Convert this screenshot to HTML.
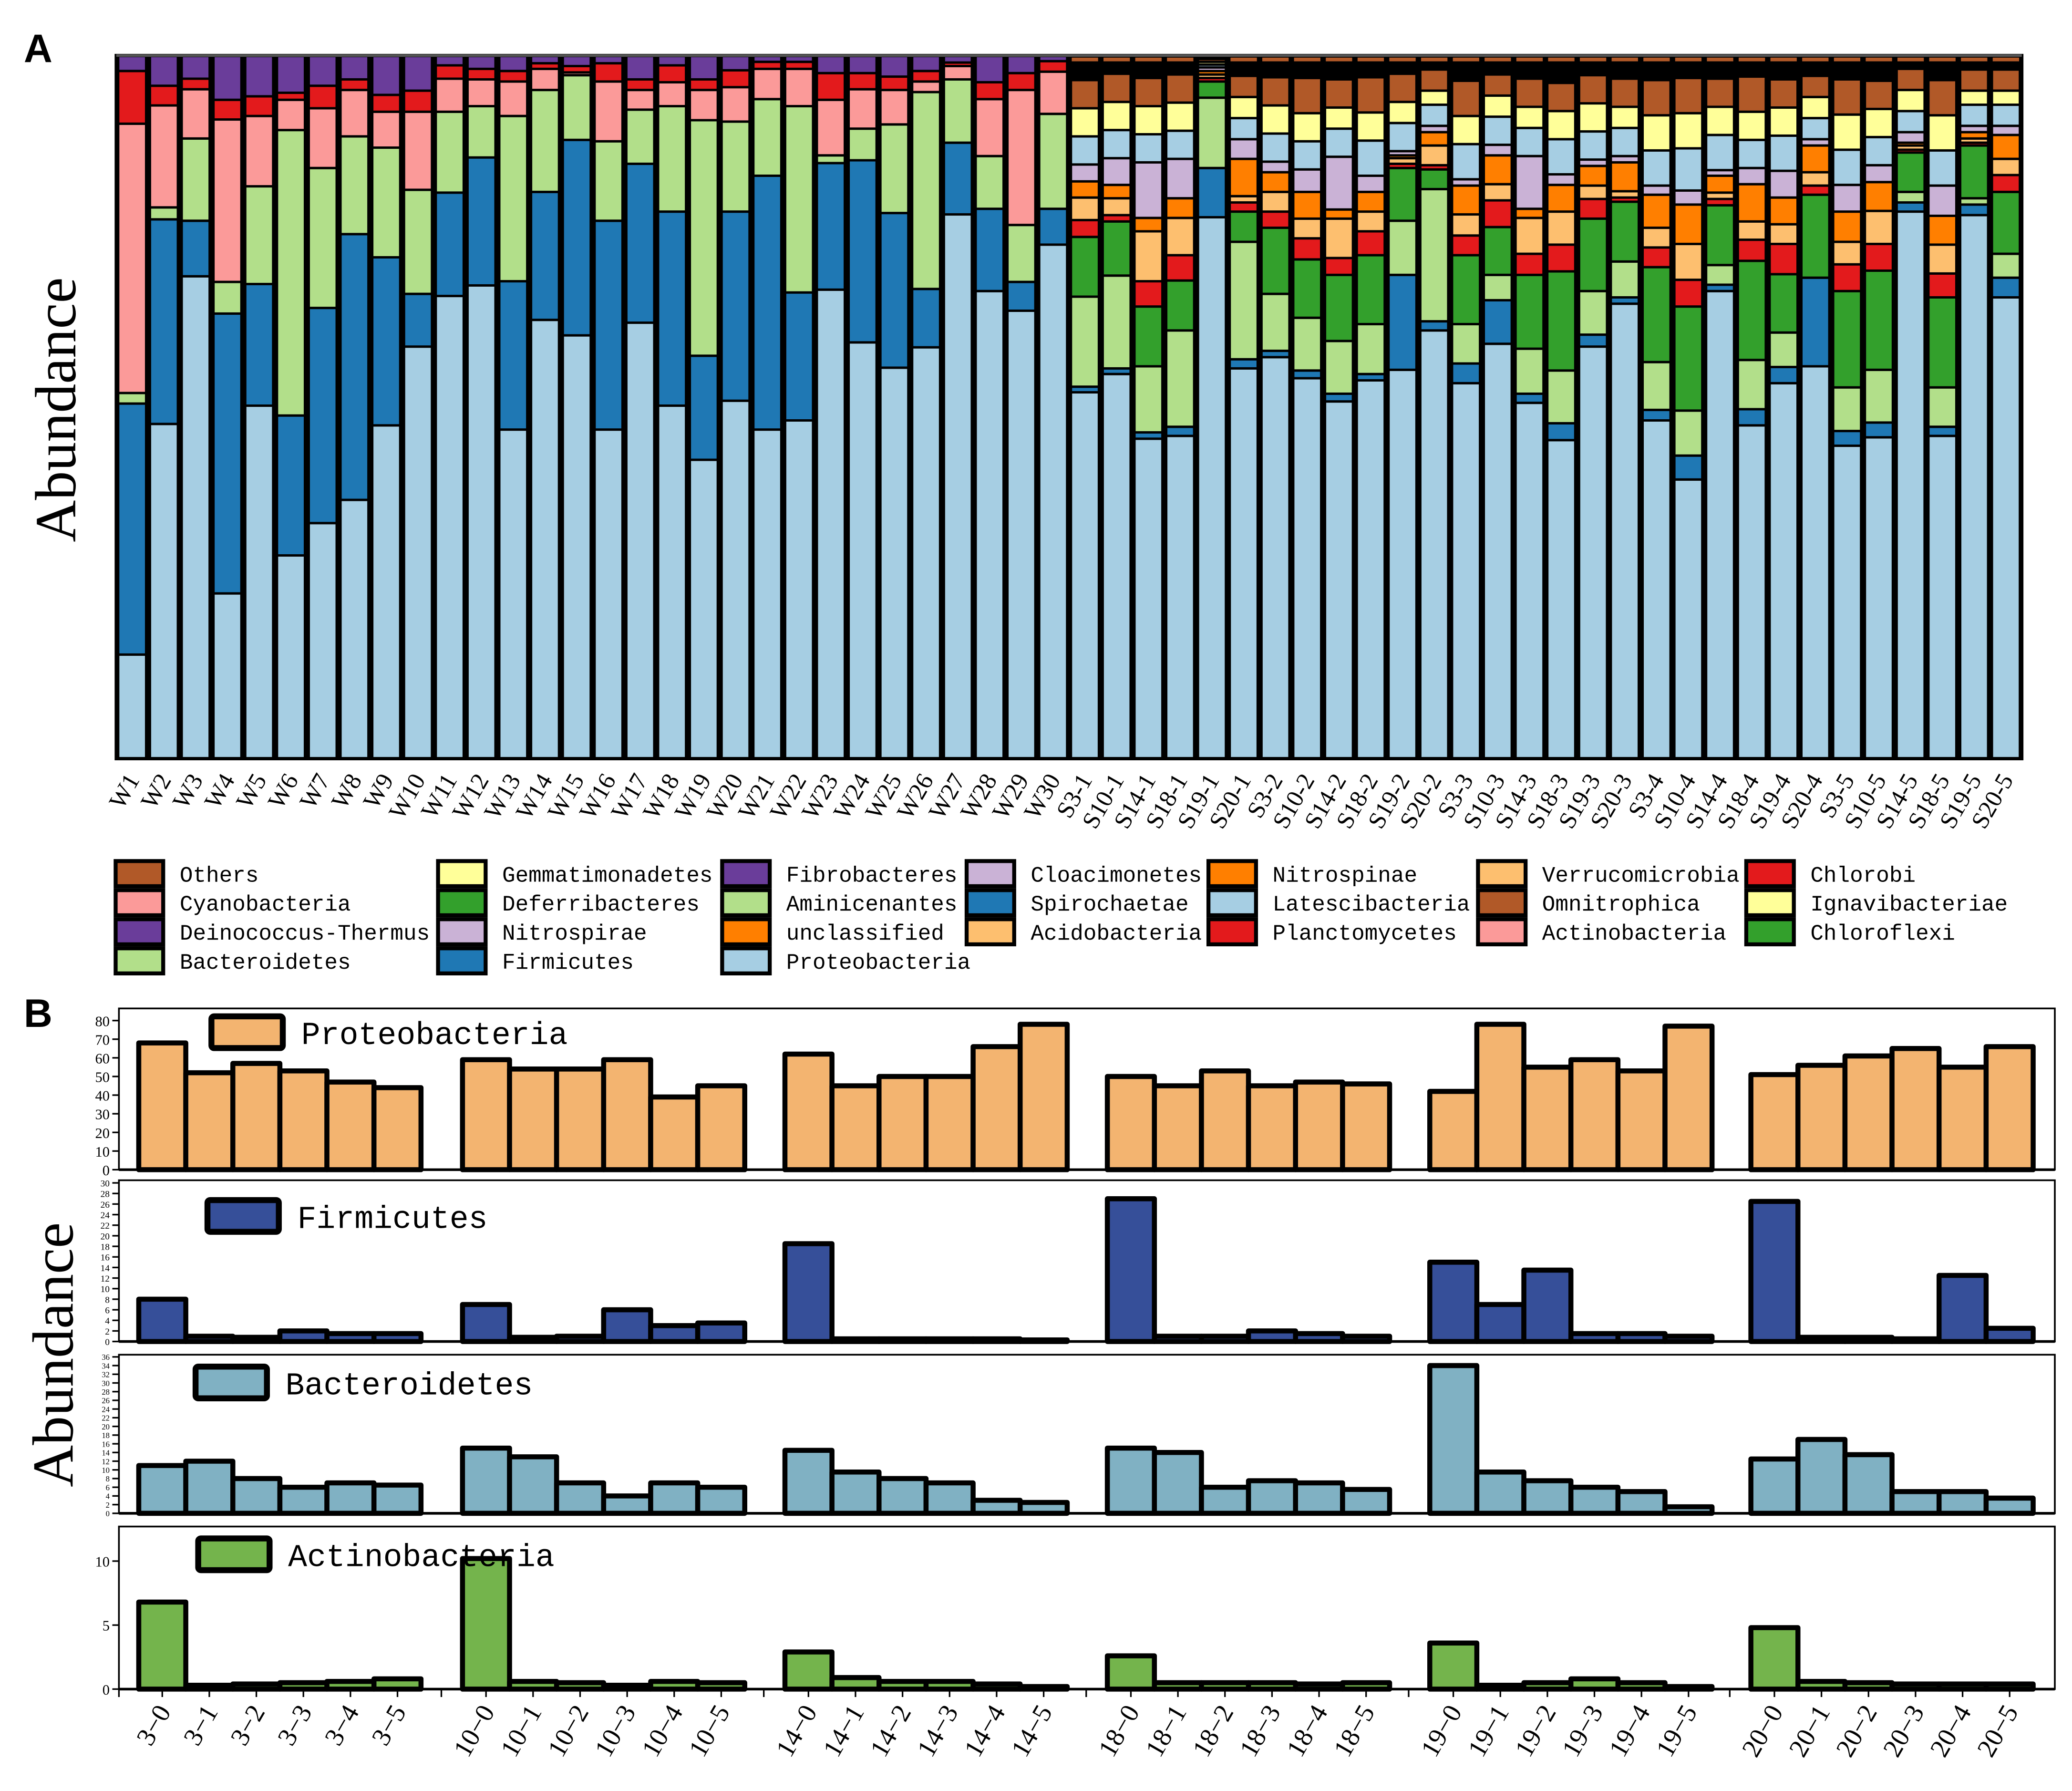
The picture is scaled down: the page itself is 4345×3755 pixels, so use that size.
<!DOCTYPE html>
<html><head><meta charset="utf-8"><style>
html,body{margin:0;padding:0;background:#fff;}
svg{display:block;}
</style></head><body>
<svg id="fig" xmlns="http://www.w3.org/2000/svg" width="4345" height="3755" viewBox="0 0 1568 1355.1" preserveAspectRatio="none">
<rect x="0" y="0" width="1568" height="1356" fill="#fff"/>
<text x="18" y="47" font-family="Liberation Sans, sans-serif" font-weight="bold" font-size="30">A</text>
<text x="18" y="777" font-family="Liberation Sans, sans-serif" font-weight="bold" font-size="30">B</text>
<text transform="translate(57,310) rotate(-90)" text-anchor="middle" font-family="Liberation Serif, serif" font-size="44">Abundance</text>
<text transform="translate(55,1025) rotate(-90)" text-anchor="middle" font-family="Liberation Serif, serif" font-size="44">Abundance</text>
<g id="gA"></g>
<g id="gLeg"></g>
<g id="gB"></g>
</svg>
<script>
// ---------- Panel A data (percent) ----------
const samplesA = ["W1","W2","W3","W4","W5","W6","W7","W8","W9","W10","W11","W12","W13","W14","W15","W16","W17","W18","W19","W20","W21","W22","W23","W24","W25","W26","W27","W28","W29","W30",
"S3-1","S10-1","S14-1","S18-1","S19-1","S20-1","S3-2","S10-2","S14-2","S18-2","S19-2","S20-2","S3-3","S10-3","S14-3","S18-3","S19-3","S20-3","S3-4","S10-4","S14-4","S18-4","S19-4","S20-4","S3-5","S10-5","S14-5","S18-5","S19-5","S20-5"];
const proteobacteria = [14.8,47.6,68.6,23.5,50.2,28.9,33.5,36.8,47.4,58.6,65.8,67.3,46.8,62.4,60.2,46.8,62.0,50.2,42.5,50.9,46.8,48.1,66.7,59.2,55.6,58.5,77.4,66.5,63.7,73.1,
52.1,54.7,45.5,45.9,77.0,55.5,57.1,54.1,50.8,53.8,55.3,60.9,53.4,59.0,50.6,45.3,58.6,64.7,48.1,39.7,66.5,47.4,53.4,55.8,44.5,45.7,77.8,45.9,77.3,65.6];
const firmicutes = [35.7,29.1,7.9,39.8,17.3,19.9,30.6,37.8,23.9,7.5,14.7,18.2,21.1,18.2,27.8,29.7,22.6,27.6,14.8,26.9,36.1,18.2,18.0,25.9,22.0,8.3,10.2,11.7,4.1,5.1,
0.8,0.8,0.9,1.3,7.0,1.3,0.9,1.1,1.1,0.9,13.5,1.3,2.8,6.2,1.3,2.4,1.7,0.9,1.5,3.4,0.9,2.3,2.3,12.6,2.1,2.1,1.3,1.3,1.5,2.8];
const bacteroidetes = [1.5,1.7,11.7,4.5,13.9,40.6,19.9,13.9,15.6,14.8,11.5,7.3,23.5,14.5,9.2,11.3,7.7,15.0,33.5,12.8,10.9,26.5,1.1,4.5,12.6,28.0,9.0,7.5,8.1,13.5,
12.8,13.2,9.4,13.7,10.0,16.7,8.1,7.5,7.5,7.1,7.7,18.8,5.6,3.6,6.4,7.5,6.2,5.1,6.8,6.4,2.8,7.0,4.9,0,6.2,7.5,1.5,5.6,0.9,3.4];
const chloroflexi = [0,0,0,0,0,0,0,0,0,0,0,0,0,0,0,0,0,0,0,0,0,0,0,0,0,0,0,0,0,0,
8.5,7.7,8.5,7.1,2.3,4.3,9.4,8.3,9.4,9.8,7.5,2.8,9.8,6.8,10.5,14.1,10.3,8.5,13.5,14.8,8.5,14.1,8.3,11.8,13.7,14.1,5.6,12.8,7.5,8.8];
const cyanobacteria = [38.3,14.5,7.0,23.1,10.0,4.3,8.5,6.6,5.1,11.1,4.7,3.8,4.9,3.0,0.4,8.5,2.8,3.4,4.3,4.9,4.3,5.3,7.9,5.6,4.9,1.5,1.9,8.1,19.2,6.0,
0,0,0,0,0,0,0,0,0,0,0,0,0,0,0,0,0,0,0,0,0,0,0,0,0,0,0,0,0,0];
const planctomycetes = [7.5,2.8,1.5,2.8,2.8,1.0,3.2,1.5,2.4,3.0,1.9,1.5,1.5,0.8,0.9,2.6,1.5,2.4,1.5,2.4,1.0,1.0,3.8,2.3,1.9,1.5,0.5,2.4,2.4,1.5,
2.4,0.9,3.6,3.6,0.5,1.3,2.3,3.0,2.4,3.4,0.6,0.6,2.8,3.8,3.0,3.8,2.8,0.6,2.8,3.8,0.9,3.0,4.3,1.3,3.8,3.8,0.4,3.4,0.4,2.4];
const verrucomicrobia = [0,0,0,0,0,0,0,0,0,0,0,0,0,0,0,0,0,0,0,0,0,0,0,0,0,0,0,0,0,0,
3.2,2.4,7.1,5.3,0.5,0.9,2.8,2.8,5.6,2.8,0.8,2.8,3.0,2.3,5.1,4.7,1.9,0.9,2.8,5.1,0.9,2.6,2.8,1.9,3.2,4.7,0.6,4.1,0.6,2.3];
const nitrospinae = [0,0,0,0,0,0,0,0,0,0,0,0,0,0,0,0,0,0,0,0,0,0,0,0,0,0,0,0,0,0,
2.3,1.9,1.9,2.8,0.5,5.3,2.8,3.8,1.3,2.8,0.4,1.9,4.1,4.1,1.3,3.8,2.8,4.1,4.7,5.6,2.4,5.3,3.8,3.8,4.3,4.1,0.4,4.1,0.9,3.4];
const cloacimonetes = [0,0,0,0,0,0,0,0,0,0,0,0,0,0,0,0,0,0,0,0,0,0,0,0,0,0,0,0,0,0,
2.4,3.8,7.9,5.6,0.5,2.8,1.5,3.2,7.5,2.3,0.6,0.9,0.9,1.5,7.5,1.5,0.9,0.9,1.3,2.0,0.8,2.3,3.8,0.9,3.8,2.4,1.5,4.3,0.9,1.3];
const latescibacteria = [0,0,0,0,0,0,0,0,0,0,0,0,0,0,0,0,0,0,0,0,0,0,0,0,0,0,0,0,0,0,
4,4,4,4,0.4,3,4,4,4,5,4,3,5,4,4,5,4,4,5,6,5,4,5,3,5,4,3,5,3,3];
const ignavibacteriae = [0,0,0,0,0,0,0,0,0,0,0,0,0,0,0,0,0,0,0,0,0,0,0,0,0,0,0,0,0,0,
4,4,4,4,0.4,3,4,4,3,4,3,2,4,3,3,4,4,3,5,5,4,4,4,3,5,4,3,5,2,2];
const omnitrophica = [0,0,0,0,0,0,0,0,0,0,0,0,0,0,0,0,0,0,0,0,0,0,0,0,0,0,0,0,0,0,
4,4,4,4,0.4,3,4,5,4,5,4,3,5,3,4,4,4,4,5,5,4,5,4,3,5,4,3,5,3,3];
const deinococcus = [2.2,4.3,3.3,6.3,5.8,5.3,4.3,3.4,5.6,5.0,1.4,1.9,2.2,1.1,1.5,1.1,3.4,1.4,3.4,2.1,0.9,0.9,2.5,2.5,3.0,2.2,1.0,3.8,2.5,0.8,
0,0,0,0,0,0,0,0,0,0,0,0,0,0,0,0,0,0,0,0,0,0,0,0,0,0,0,0,0,0];

const seriesA = [
 ["proteobacteria",proteobacteria,"#a6cee3"],
 ["firmicutes",firmicutes,"#1f78b4"],
 ["bacteroidetes",bacteroidetes,"#b2df8a"],
 ["chloroflexi",chloroflexi,"#33a02c"],
 ["cyanobacteria",cyanobacteria,"#fb9a99"],
 ["planctomycetes",planctomycetes,"#e31a1c"],
 ["verrucomicrobia",verrucomicrobia,"#fdbf6f"],
 ["nitrospinae",nitrospinae,"#ff7f00"],
 ["cloacimonetes",cloacimonetes,"#cab2d6"],
 ["latescibacteria",latescibacteria,"#a6cee3"],
 ["ignavibacteriae",ignavibacteriae,"#ffff99"],
 ["omnitrophica",omnitrophica,"#b15928"],
 ["deinococcus",deinococcus,"#6a3d9a"]
];

const NS="http://www.w3.org/2000/svg";
function mk(tag,attrs,parent){const e=document.createElementNS(NS,tag);for(const k in attrs)e.setAttribute(k,attrs[k]);parent.appendChild(e);return e;}

// ---------- Panel A ----------
const gA=document.getElementById('gA');
const AX0=88,AX1=1530,AY0=42,AY1=574;
const yA=v=>AY1-(Math.min(v,100)/100)*(AY1-AY0);
const pitchA=(AX1-AX0)/samplesA.length, bwA=pitchA*0.88;
const xA=i=>AX0+i*pitchA+(pitchA-bwA)/2;
mk('rect',{x:AX0,y:AY0,width:AX1-AX0,height:AY1-AY0,fill:'#000'},gA);
samplesA.forEach((s,i)=>{
  let cum=0;
  const bar=mk('g',{},gA);
  
  
  seriesA.forEach(([nm,arr,col])=>{
    const v=arr[i]; if(v<=0) return;
    const r=mk('rect',{x:xA(i),y:yA(cum+v),width:bwA,height:Math.max(0.1,yA(cum)-yA(cum+v)),fill:col,stroke:'#000','stroke-width':1.8},bar);
    
    
    cum+=v;
  });
  if(cum<99.3){
    const r=mk('rect',{x:xA(i),y:yA(100)+1,width:bwA,height:Math.max(0.1,Math.min(4,yA(cum)-yA(100)-1)),fill:'#b15928',stroke:'#000','stroke-width':1.2},bar);
    
    
  }
  const cx=xA(i)+bwA/2;
  const t=mk('text',{x:0,y:0,transform:`translate(${cx+6},${590}) rotate(-60)`,'text-anchor':'end','font-family':'Liberation Serif, serif','font-size':18.5},gA);
  t.textContent=s;
  
  
});
mk('rect',{x:AX0,y:AY0,width:AX1-AX0,height:AY1-AY0,fill:'none',stroke:'#000','stroke-width':2.5},gA);
mk('line',{x1:AX0,y1:AY0,x2:AX1,y2:AY0,stroke:'#555','stroke-width':2},gA);

// ---------- Legend ----------
const legendNames=["Others","Cyanobacteria","Deinococcus-Thermus","Bacteroidetes","Gemmatimonadetes","Deferribacteres","Nitrospirae","Firmicutes","Fibrobacteres","Aminicenantes","unclassified","Proteobacteria","Cloacimonetes","Spirochaetae","Acidobacteria","Nitrospinae","Latescibacteria","Planctomycetes","Verrucomicrobia","Omnitrophica","Actinobacteria","Chlorobi","Ignavibacteriae","Chloroflexi"];
const legendColors=["#b15928","#fb9a99","#6a3d9a","#b2df8a","#ffff99","#33a02c","#cab2d6","#1f78b4","#6a3d9a","#b2df8a","#ff7f00","#a6cee3","#cab2d6","#1f78b4","#fdbf6f","#ff7f00","#a6cee3","#e31a1c","#fdbf6f","#b15928","#fb9a99","#e31a1c","#ffff99","#33a02c"];
const legendColX=[86,330,545,730,913,1117,1320];
const legendColStart=[0,4,8,12,15,18,21];
const gL=document.getElementById('gLeg');
legendNames.forEach((n,k)=>{
  let c=0; for(let j=0;j<legendColStart.length;j++) if(k>=legendColStart[j]) c=j;
  const r=k-legendColStart[c];
  const x=legendColX[c], y=650+r*22;
  const g=mk('g',{},gL);
  
  
  mk('rect',{x:x+1.5,y:y+1.5,width:36,height:19,fill:legendColors[k],stroke:'#000','stroke-width':3},g);
  const t=mk('text',{x:x+50,y:y+17,'font-family':'Liberation Mono, monospace','font-size':16.6},g);
  t.textContent=n;
});

// ---------- Panel B ----------
const groupLabels=["3","10","14","18","19","20"];
const proteoB=[68,52,57,53,47,44, 59,54,54,59,39,45, 62,45,50,50,66,78, 50,45,53,45,47,46, 42,78,55,59,53,77, 51,56,61,65,55,66];
const firmB=[8,1,0.8,2,1.5,1.5, 7,0.8,1,6,3,3.5, 18.5,0.5,0.5,0.5,0.5,0.3, 27,1,1,2,1.5,1, 15,7,13.5,1.5,1.5,1, 26.5,0.8,0.8,0.5,12.5,2.5];
const bactB=[11,12,8,6,7,6.5, 15,13,7,4,7,6, 14.5,9.5,8,7,3,2.5, 15,14,6,7.5,7,5.5, 34,9.5,7.5,6,5,1.5, 12.5,17,13.5,5,5,3.5];
const actB=[6.8,0.3,0.4,0.5,0.6,0.8, 10.2,0.6,0.5,0.3,0.6,0.5, 2.9,0.9,0.6,0.6,0.4,0.2, 2.6,0.5,0.5,0.5,0.4,0.5, 3.6,0.3,0.5,0.8,0.5,0.2, 4.8,0.6,0.5,0.4,0.4,0.4];
const ticksP=[0,10,20,30,40,50,60,70,80];
const ticksF=[0,2,4,6,8,10,12,14,16,18,20,22,24,26,28,30];
const ticksBa=[0,2,4,6,8,10,12,14,16,18,20,22,24,26,28,30,32,34,36];
const ticksAc=[0,5,10];
const gB=document.getElementById('gB');
const BX0=90,BX1=1555;
const groupStart=[105,350,594,838,1082,1325], bwB=35.6;
const panels=[
 {name:"proteobacteria",label:"Proteobacteria",data:proteoB,ticks:ticksP,tickFs:11,y0:763,y1:885,max:86.5,col:"#f3b470",lx:158,ly:767},
 {name:"firmicutes",label:"Firmicutes",data:firmB,ticks:ticksF,tickFs:7,y0:893,y1:1015,max:30.5,col:"#364f99",lx:155,ly:906},
 {name:"bacteroidetes",label:"Bacteroidetes",data:bactB,ticks:ticksBa,tickFs:6,y0:1025,y1:1145,max:36.5,col:"#80b1c3",lx:146,ly:1032},
 {name:"actinobacteria",label:"Actinobacteria",data:actB,ticks:ticksAc,tickFs:11,y0:1155,y1:1278,max:12.7,col:"#74b44c",lx:148,ly:1162}
];
panels.forEach((p,pi)=>{
  const g=mk('g',{},gB);
  
  
  const y=v=>p.y1-(v/p.max)*(p.y1-p.y0);
  mk('rect',{x:BX0,y:p.y0,width:BX1-BX0,height:p.y1-p.y0,fill:'#fff',stroke:'#000','stroke-width':1.3},g);
  p.ticks.forEach(tv=>{
    mk('line',{x1:BX0-5,y1:y(tv),x2:BX0,y2:y(tv),stroke:'#000','stroke-width':1.2},g);
    const t=mk('text',{x:BX0-7,y:y(tv)+p.tickFs*0.38,'text-anchor':'end','font-family':'Liberation Serif, serif','font-size':p.tickFs},g);
    t.textContent=tv;
    
    
  });
  p.data.forEach((v,k)=>{
    const gi=Math.floor(k/6), j=k%6;
    const x=groupStart[gi]+j*bwB;
    const r=mk('rect',{x:x,y:y(v),width:bwB,height:p.y1-y(v),fill:p.col,stroke:'#000','stroke-width':3.8,'stroke-linejoin':'round'},g);
    
    
  });
  mk('line',{x1:BX0,y1:p.y1,x2:BX1,y2:p.y1,stroke:'#000','stroke-width':2},g);
  const lg=mk('g',{},g);
  
  
  mk('rect',{x:p.lx+2,y:p.ly+2,width:54,height:24,fill:p.col,stroke:'#000','stroke-width':4.5,rx:2},lg);
  const lt=mk('text',{x:p.lx+70,y:p.ly+23,'font-family':'Liberation Mono, monospace','font-size':24},lg);
  lt.textContent=p.label;
});
// x ticks / labels under last subplot
const yb=1278;
groupStart.forEach((gs,gi)=>{
  for(let j=0;j<6;j++){
    const cx=gs+j*bwB+bwB/2;
    mk('line',{x1:cx,y1:yb,x2:cx,y2:yb+6,stroke:'#000','stroke-width':1.2},gB);
    const t=mk('text',{x:0,y:0,transform:`translate(${cx+7},${1295}) rotate(-60)`,'text-anchor':'end','font-family':'Liberation Serif, serif','font-size':20},gB);
    t.textContent=groupLabels[gi]+'\u2212'+j;
    
    
  }
  const sx=gs-(gi===0?15:16);
  mk('line',{x1:sx,y1:yb,x2:sx,y2:yb+6,stroke:'#000','stroke-width':1.2},gB);
});
</script>
</body></html>
